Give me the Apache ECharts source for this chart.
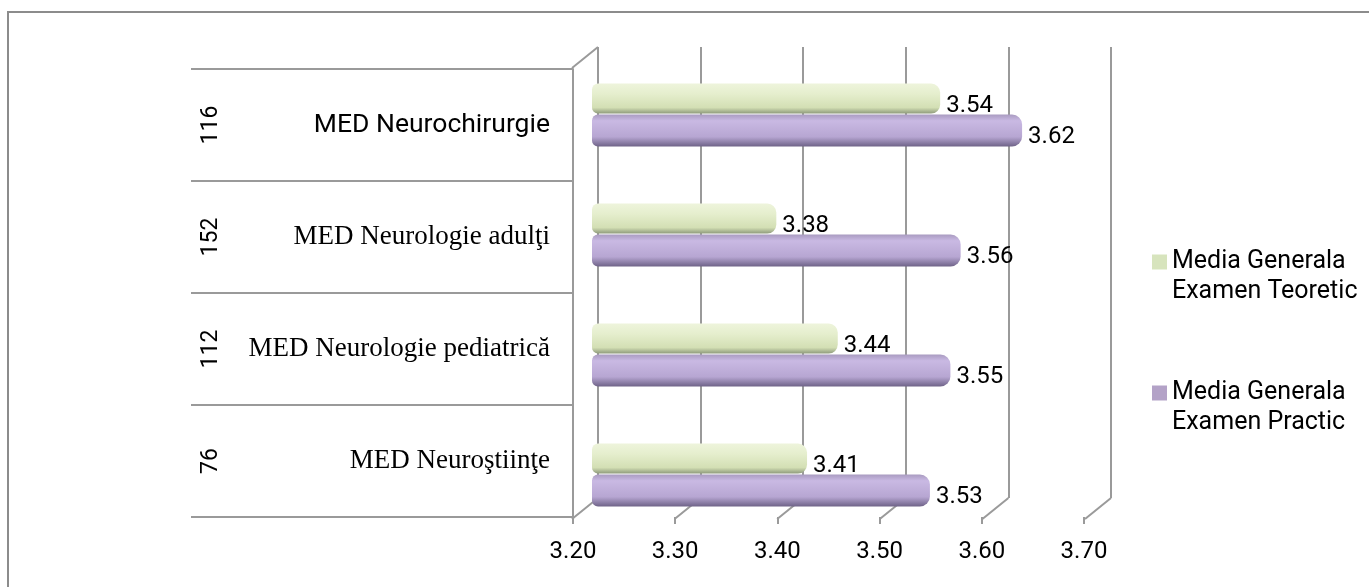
<html>
<head>
<meta charset="UTF-8">
<script src="https://cdn.jsdelivr.net/npm/echarts@6/dist/echarts.min.js"></script>
<title>Media generala</title>
<style>
	body { margin: 0; background: #fff; }
	#frame { position: absolute; left: 7px; top: 11px; width: 1400px; height: 620px;
		border-left: 2px solid #8c8c8c; border-top: 2px solid #8c8c8c; }
	#main { position: absolute; left: 0; top: 0; width: 1369px; height: 587px; }
</style>
</head>
<body>
	<div id="frame"></div>
	<div id="main"></div>
</body>
<script type="text/javascript">
	// date
	var categories = ['MED Neurochirurgie', 'MED Neurologie adulţi', 'MED Neurologie pediatrică', 'MED Neuroştiinţe'];
	var counts = ['116', '152', '112', '76'];
	var teoretic = [3.54, 3.38, 3.44, 3.41];
	var practic = [3.62, 3.56, 3.55, 3.53];
	var ticks = [3.2, 3.3, 3.4, 3.5, 3.6, 3.7];
	var seriesNames = ['Media Generala\nExamen Teoretic', 'Media Generala\nExamen Practic'];

	var gridLine = { color: '#9a9a9a', width: 2 };
	var sans = 'Roboto, "Open Sans", sans-serif';
	var serif = '"Liberation Serif", "DejaVu Serif", serif';

	var myChart = echarts.init(document.getElementById('main'));
	var option = {
		animation : false,
		grid : [
			{ left : 573, top : 69, width : 511, height : 448 },   // planul din fata
			{ left : 598, top : 47, width : 513, height : 451 },   // planul din spate
			{ left : 592, top : 55, width : 512, height : 480 },   // barele
			{ left : 573, top : 69, width : 511, height : 448 }    // numerele
		],
		legend : {
			orient : 'vertical',
			left : 1147,
			top : 212,
			itemWidth : 15,
			itemHeight : 15,
			itemGap : 41,
			icon : 'rect',
			// linie goala deasupra ca patratul sa stea in dreptul primului rand
			formatter : function(name) { return ' \n' + name; },
			textStyle : { fontSize : 25, lineHeight : 30, fontFamily : sans, color : '#000' },
			data : [
				{ name : seriesNames[0], itemStyle : { color : '#d7e4bd' } },
				{ name : seriesNames[1], itemStyle : { color : '#b3a2c7' } }
			]
		},
		xAxis : [ {
			gridIndex : 0, type : 'value', min : 3.2, max : 3.7, interval : 0.1,
			axisLine : { show : false },
			axisTick : { show : true, length : 7, lineStyle : gridLine },
			splitLine : { show : false },
			axisLabel : { fontSize : 24, fontFamily : sans, color : '#000', margin : 23,
				formatter : function(v) { return v.toFixed(2); } }
		}, {
			gridIndex : 1, type : 'value', min : 3.2, max : 3.7, interval : 0.1,
			axisLine : { show : false }, axisTick : { show : false }, axisLabel : { show : false },
			splitLine : { show : true, lineStyle : gridLine }
		}, {
			gridIndex : 2, type : 'value', min : 3.2, max : 3.7, show : false
		}, {
			gridIndex : 3, type : 'value', min : 3.2, max : 3.7, show : false
		} ],
		yAxis : [ {
			gridIndex : 0, type : 'category', inverse : true, data : categories,
			axisLine : { show : true, lineStyle : gridLine },
			axisTick : { show : false },
			axisLabel : {
				margin : 23,
				formatter : function(v, i) { return (i === 0 ? '{s|' : '{f|') + v + '}'; },
				rich : {
					s : { fontSize : 26.5, fontFamily : sans, color : '#000' },
					f : { fontSize : 27, fontFamily : serif, color : '#000' }
				}
			}
		}, {
			gridIndex : 1, type : 'value', min : 0, max : 1, show : false
		}, {
			gridIndex : 2, type : 'category', inverse : true, data : categories, show : false
		}, {
			gridIndex : 3, type : 'category', inverse : true, data : counts,
			axisLine : { show : false },
			axisTick : { show : true, length : 382, lineStyle : gridLine },
			axisLabel : { rotate : 90, margin : 350, fontSize : 23, fontFamily : sans, color : '#000' }
		} ],
		series : [ {
			// muchiile podelei si peretelui (3D)
			type : 'custom',
			xAxisIndex : 1,
			yAxisIndex : 1,
			silent : true,
			data : ticks.map(function(v) { return [v, 0]; }).concat([[ticks[0], 1]]),
			renderItem : function(params, api) {
				var p = api.coord([api.value(0), api.value(1)]);
				return {
					type : 'line',
					shape : { x1 : p[0], y1 : p[1], x2 : p[0] - 26, y2 : p[1] + 21 },
					style : { stroke : '#9a9a9a', lineWidth : 2 }
				};
			}
		}, {
			name : seriesNames[0],
			type : 'bar',
			xAxisIndex : 2,
			yAxisIndex : 2,
			data : teoretic,
			barWidth : 30,
			barGap : '3%',
			itemStyle : {
				borderRadius : [6, 9, 9, 6],
				color : new echarts.graphic.LinearGradient(0, 0, 0, 1, [
					{ offset : 0, color : '#eef4dc' },
					{ offset : 0.35, color : '#e5eecd' },
					{ offset : 0.8, color : '#d3dfb4' },
					{ offset : 1, color : '#8f9b7c' } ])
			},
			label : { show : true, position : 'right', distance : 6, offset : [0, 7],
				fontSize : 24, fontFamily : sans, color : '#000',
				formatter : function(p) { return p.value.toFixed(2); } }
		}, {
			name : seriesNames[1],
			type : 'bar',
			xAxisIndex : 2,
			yAxisIndex : 2,
			data : practic,
			barWidth : 32,
			itemStyle : {
				borderRadius : [6, 10, 10, 6],
				color : new echarts.graphic.LinearGradient(0, 0, 0, 1, [
					{ offset : 0, color : '#a99bc0' },
					{ offset : 0.2, color : '#c9b9e3' },
					{ offset : 0.7, color : '#b7a6d2' },
					{ offset : 1, color : '#6f6388' } ])
			},
			label : { show : true, position : 'right', distance : 6, offset : [0, 7],
				fontSize : 24, fontFamily : sans, color : '#000',
				formatter : function(p) { return p.value.toFixed(2); } }
		} ]
	};
	myChart.setOption(option);
</script>
</html>
